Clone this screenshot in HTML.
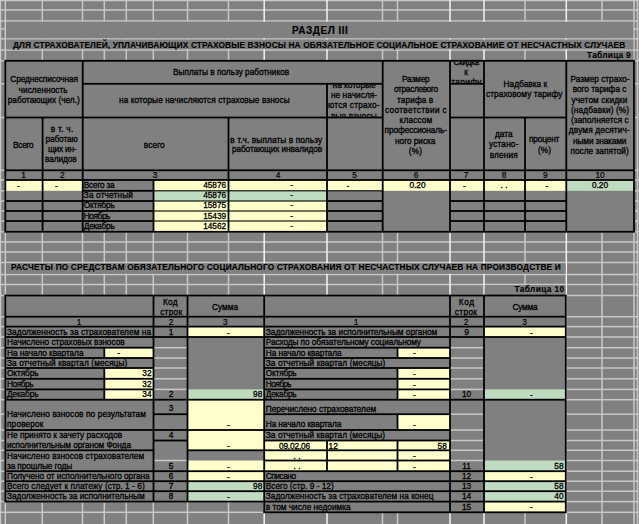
<!DOCTYPE html>
<html><head><meta charset="utf-8"><title>Раздел III</title>
<style>html,body{margin:0;padding:0;background:#808080;width:639px;height:524px;overflow:hidden}
svg{display:block;font-family:"Liberation Sans",sans-serif}text{stroke:#000;stroke-width:0.3px}text.n{stroke-width:0.2px}text[font-weight=bold]{stroke-width:0.15px}</style></head>
<body><svg width="639" height="524" viewBox="0 0 639 524" font-family="Liberation Sans, sans-serif" font-size="8.3"><defs><clipPath id="c0"><rect x="328.00" y="84.70" width="54.00" height="31.90"/></clipPath><clipPath id="c1"><rect x="451.00" y="61.70" width="32.00" height="21.80"/></clipPath></defs><rect x="0.00" y="0.00" width="639.00" height="524.00" fill="#808080"/>
<rect x="0.00" y="-0.25" width="639.00" height="1.50" fill="#c8c8c8"/>
<rect x="0.00" y="9.25" width="639.00" height="1.50" fill="#c8c8c8"/>
<rect x="0.00" y="20.25" width="639.00" height="1.50" fill="#c8c8c8"/>
<rect x="0.00" y="28.25" width="639.00" height="1.50" fill="#c8c8c8"/>
<rect x="0.00" y="38.15" width="639.00" height="1.50" fill="#c8c8c8"/>
<rect x="0.00" y="49.25" width="639.00" height="1.50" fill="#c8c8c8"/>
<rect x="0.00" y="60.05" width="639.00" height="1.50" fill="#c8c8c8"/>
<rect x="0.00" y="83.05" width="639.00" height="1.50" fill="#c8c8c8"/>
<rect x="0.00" y="116.75" width="639.00" height="1.50" fill="#c8c8c8"/>
<rect x="0.00" y="169.55" width="639.00" height="1.50" fill="#c8c8c8"/>
<rect x="0.00" y="179.25" width="639.00" height="1.50" fill="#c8c8c8"/>
<rect x="0.00" y="190.05" width="639.00" height="1.50" fill="#c8c8c8"/>
<rect x="0.00" y="200.25" width="639.00" height="1.50" fill="#c8c8c8"/>
<rect x="0.00" y="210.25" width="639.00" height="1.50" fill="#c8c8c8"/>
<rect x="0.00" y="220.25" width="639.00" height="1.50" fill="#c8c8c8"/>
<rect x="0.00" y="231.05" width="639.00" height="1.50" fill="#c8c8c8"/>
<rect x="0.00" y="241.25" width="639.00" height="1.50" fill="#c8c8c8"/>
<rect x="0.00" y="251.25" width="639.00" height="1.50" fill="#c8c8c8"/>
<rect x="0.00" y="261.75" width="639.00" height="1.50" fill="#c8c8c8"/>
<rect x="0.00" y="273.75" width="639.00" height="1.50" fill="#c8c8c8"/>
<rect x="0.00" y="283.75" width="639.00" height="1.50" fill="#c8c8c8"/>
<rect x="0.00" y="294.75" width="639.00" height="1.50" fill="#c8c8c8"/>
<rect x="0.00" y="315.95" width="639.00" height="1.50" fill="#c8c8c8"/>
<rect x="0.00" y="325.85" width="639.00" height="1.50" fill="#c8c8c8"/>
<rect x="0.00" y="336.25" width="639.00" height="1.50" fill="#c8c8c8"/>
<rect x="0.00" y="346.95" width="639.00" height="1.50" fill="#c8c8c8"/>
<rect x="0.00" y="357.25" width="639.00" height="1.50" fill="#c8c8c8"/>
<rect x="0.00" y="367.25" width="639.00" height="1.50" fill="#c8c8c8"/>
<rect x="0.00" y="378.05" width="639.00" height="1.50" fill="#c8c8c8"/>
<rect x="0.00" y="388.65" width="639.00" height="1.50" fill="#c8c8c8"/>
<rect x="0.00" y="398.95" width="639.00" height="1.50" fill="#c8c8c8"/>
<rect x="0.00" y="413.45" width="639.00" height="1.50" fill="#c8c8c8"/>
<rect x="0.00" y="429.25" width="639.00" height="1.50" fill="#c8c8c8"/>
<rect x="0.00" y="439.75" width="639.00" height="1.50" fill="#c8c8c8"/>
<rect x="0.00" y="449.55" width="639.00" height="1.50" fill="#c8c8c8"/>
<rect x="0.00" y="459.75" width="639.00" height="1.50" fill="#c8c8c8"/>
<rect x="0.00" y="470.45" width="639.00" height="1.50" fill="#c8c8c8"/>
<rect x="0.00" y="480.45" width="639.00" height="1.50" fill="#c8c8c8"/>
<rect x="0.00" y="490.45" width="639.00" height="1.50" fill="#c8c8c8"/>
<rect x="0.00" y="500.85" width="639.00" height="1.50" fill="#c8c8c8"/>
<rect x="0.00" y="511.55" width="639.00" height="1.50" fill="#c8c8c8"/>
<rect x="-0.25" y="0.00" width="1.50" height="524.00" fill="#c8c8c8"/>
<rect x="4.55" y="0.00" width="1.50" height="524.00" fill="#c8c8c8"/>
<rect x="41.55" y="0.00" width="1.50" height="524.00" fill="#c8c8c8"/>
<rect x="81.75" y="0.00" width="1.50" height="524.00" fill="#c8c8c8"/>
<rect x="103.55" y="0.00" width="1.50" height="524.00" fill="#c8c8c8"/>
<rect x="125.55" y="0.00" width="1.50" height="524.00" fill="#c8c8c8"/>
<rect x="152.55" y="0.00" width="1.50" height="524.00" fill="#c8c8c8"/>
<rect x="186.75" y="0.00" width="1.50" height="524.00" fill="#c8c8c8"/>
<rect x="227.75" y="0.00" width="1.50" height="524.00" fill="#c8c8c8"/>
<rect x="263.45" y="0.00" width="1.50" height="524.00" fill="#f4f4f4"/>
<rect x="326.25" y="0.00" width="1.50" height="524.00" fill="#f4f4f4"/>
<rect x="381.75" y="0.00" width="1.50" height="524.00" fill="#c8c8c8"/>
<rect x="396.75" y="0.00" width="1.50" height="524.00" fill="#c8c8c8"/>
<rect x="449.25" y="0.00" width="1.50" height="524.00" fill="#f4f4f4"/>
<rect x="483.25" y="0.00" width="1.50" height="524.00" fill="#f4f4f4"/>
<rect x="524.25" y="0.00" width="1.50" height="524.00" fill="#c8c8c8"/>
<rect x="565.55" y="0.00" width="1.50" height="524.00" fill="#f4f4f4"/>
<rect x="601.25" y="0.00" width="1.50" height="524.00" fill="#c8c8c8"/>
<rect x="633.25" y="0.00" width="1.50" height="524.00" fill="#c8c8c8"/>
<rect x="636.75" y="0.00" width="1.50" height="524.00" fill="#c8c8c8"/>
<rect x="6.05" y="21.75" width="627.20" height="16.40" fill="#808080"/>
<rect x="6.05" y="39.65" width="627.20" height="9.60" fill="#808080"/>
<rect x="6.05" y="263.25" width="559.50" height="10.50" fill="#808080"/>
<rect x="567.05" y="50.75" width="66.20" height="9.30" fill="#808080"/>
<rect x="484.75" y="285.25" width="80.80" height="9.50" fill="#808080"/>
<rect x="5.30" y="60.80" width="628.70" height="171.00" fill="#808080"/>
<rect x="5.30" y="180.00" width="37.30" height="10.80" fill="#ffffcc"/>
<rect x="42.60" y="180.00" width="40.10" height="10.80" fill="#ffffcc"/>
<rect x="153.50" y="180.00" width="75.00" height="10.80" fill="#ffffcc"/>
<rect x="228.50" y="180.00" width="98.50" height="10.80" fill="#ffffcc"/>
<rect x="327.00" y="180.00" width="55.70" height="10.80" fill="#ffffcc"/>
<rect x="382.70" y="180.00" width="67.30" height="10.80" fill="#ffffcc"/>
<rect x="450.00" y="180.00" width="34.00" height="10.80" fill="#ffffcc"/>
<rect x="484.00" y="180.00" width="41.00" height="10.80" fill="#ffffcc"/>
<rect x="525.00" y="180.00" width="41.30" height="10.80" fill="#ffffcc"/>
<rect x="566.30" y="180.00" width="67.70" height="10.80" fill="#c0dcc0"/>
<rect x="153.50" y="190.80" width="75.00" height="10.20" fill="#c0dcc0"/>
<rect x="228.50" y="190.80" width="98.50" height="10.20" fill="#c0dcc0"/>
<rect x="153.50" y="201.00" width="75.00" height="10.00" fill="#ffffcc"/>
<rect x="228.50" y="201.00" width="98.50" height="10.00" fill="#ffffcc"/>
<rect x="153.50" y="211.00" width="75.00" height="10.00" fill="#ffffcc"/>
<rect x="228.50" y="211.00" width="98.50" height="10.00" fill="#ffffcc"/>
<rect x="153.50" y="221.00" width="75.00" height="10.80" fill="#ffffcc"/>
<rect x="228.50" y="221.00" width="98.50" height="10.80" fill="#ffffcc"/>
<rect x="4.40" y="59.90" width="630.50" height="1.80" fill="#000"/>
<rect x="4.40" y="230.90" width="630.50" height="1.80" fill="#000"/>
<rect x="4.40" y="60.80" width="1.80" height="171.00" fill="#000"/>
<rect x="633.10" y="60.80" width="1.80" height="171.00" fill="#000"/>
<rect x="81.80" y="60.80" width="1.80" height="171.00" fill="#000"/>
<rect x="381.80" y="60.80" width="1.80" height="171.00" fill="#000"/>
<rect x="449.10" y="60.80" width="1.80" height="171.00" fill="#000"/>
<rect x="483.10" y="60.80" width="1.80" height="171.00" fill="#000"/>
<rect x="565.40" y="60.80" width="1.80" height="171.00" fill="#000"/>
<rect x="41.70" y="117.50" width="1.80" height="114.30" fill="#000"/>
<rect x="227.60" y="117.50" width="1.80" height="114.30" fill="#000"/>
<rect x="326.10" y="83.80" width="1.80" height="148.00" fill="#000"/>
<rect x="524.10" y="117.50" width="1.80" height="114.30" fill="#000"/>
<rect x="152.60" y="180.00" width="1.80" height="51.80" fill="#000"/>
<rect x="82.70" y="82.90" width="300.00" height="1.80" fill="#000"/>
<rect x="450.00" y="82.90" width="34.00" height="1.80" fill="#000"/>
<rect x="5.30" y="116.60" width="377.40" height="1.80" fill="#000"/>
<rect x="450.00" y="116.60" width="116.30" height="1.80" fill="#000"/>
<rect x="5.30" y="169.40" width="628.70" height="1.80" fill="#000"/>
<rect x="5.30" y="179.10" width="628.70" height="1.80" fill="#000"/>
<rect x="5.30" y="200.10" width="77.40" height="1.80" fill="#000"/>
<rect x="5.30" y="210.10" width="77.40" height="1.80" fill="#000"/>
<rect x="5.30" y="220.10" width="77.40" height="1.80" fill="#000"/>
<rect x="82.70" y="189.90" width="70.80" height="1.80" fill="#000"/>
<rect x="153.50" y="190.25" width="173.50" height="1.10" fill="#000"/>
<rect x="327.00" y="190.25" width="55.70" height="1.10" fill="#000"/>
<rect x="82.70" y="200.10" width="70.80" height="1.80" fill="#000"/>
<rect x="153.50" y="200.45" width="173.50" height="1.10" fill="#000"/>
<rect x="327.00" y="200.10" width="55.70" height="1.80" fill="#000"/>
<rect x="450.00" y="200.10" width="116.30" height="1.80" fill="#000"/>
<rect x="82.70" y="210.10" width="70.80" height="1.80" fill="#000"/>
<rect x="153.50" y="210.45" width="173.50" height="1.10" fill="#000"/>
<rect x="327.00" y="210.10" width="55.70" height="1.80" fill="#000"/>
<rect x="450.00" y="210.10" width="116.30" height="1.80" fill="#000"/>
<rect x="82.70" y="220.10" width="70.80" height="1.80" fill="#000"/>
<rect x="153.50" y="220.45" width="173.50" height="1.10" fill="#000"/>
<rect x="327.00" y="220.10" width="55.70" height="1.80" fill="#000"/>
<rect x="450.00" y="220.10" width="116.30" height="1.80" fill="#000"/>
<rect x="5.30" y="295.50" width="258.90" height="206.10" fill="#808080"/>
<rect x="264.20" y="295.50" width="301.60" height="216.80" fill="#808080"/>
<rect x="153.50" y="346.95" width="34.00" height="1.50" fill="#c8c8c8"/>
<rect x="153.50" y="357.25" width="34.00" height="1.50" fill="#c8c8c8"/>
<rect x="153.50" y="367.25" width="34.00" height="1.50" fill="#c8c8c8"/>
<rect x="153.50" y="378.05" width="34.00" height="1.50" fill="#c8c8c8"/>
<rect x="153.50" y="388.65" width="34.00" height="1.50" fill="#c8c8c8"/>
<rect x="153.50" y="459.75" width="34.00" height="1.50" fill="#c8c8c8"/>
<rect x="450.00" y="346.95" width="34.00" height="1.50" fill="#c8c8c8"/>
<rect x="450.00" y="357.25" width="34.00" height="1.50" fill="#c8c8c8"/>
<rect x="450.00" y="367.25" width="34.00" height="1.50" fill="#c8c8c8"/>
<rect x="450.00" y="378.05" width="34.00" height="1.50" fill="#c8c8c8"/>
<rect x="450.00" y="388.65" width="34.00" height="1.50" fill="#c8c8c8"/>
<rect x="450.00" y="413.45" width="34.00" height="1.50" fill="#c8c8c8"/>
<rect x="450.00" y="429.25" width="34.00" height="1.50" fill="#c8c8c8"/>
<rect x="450.00" y="439.75" width="34.00" height="1.50" fill="#c8c8c8"/>
<rect x="450.00" y="449.55" width="34.00" height="1.50" fill="#c8c8c8"/>
<rect x="450.00" y="459.75" width="34.00" height="1.50" fill="#c8c8c8"/>
<rect x="187.50" y="326.60" width="76.70" height="10.40" fill="#ffffcc"/>
<rect x="104.30" y="347.70" width="49.20" height="10.30" fill="#ffffcc"/>
<rect x="104.30" y="368.00" width="49.20" height="10.80" fill="#ffffcc"/>
<rect x="104.30" y="378.80" width="49.20" height="10.60" fill="#ffffcc"/>
<rect x="104.30" y="389.40" width="49.20" height="10.30" fill="#ffffcc"/>
<rect x="187.50" y="389.40" width="76.70" height="10.30" fill="#c0dcc0"/>
<rect x="187.50" y="399.70" width="76.70" height="30.30" fill="#ffffcc"/>
<rect x="187.50" y="430.00" width="76.70" height="20.30" fill="#ffffcc"/>
<rect x="187.50" y="460.50" width="76.70" height="10.70" fill="#ffffcc"/>
<rect x="187.50" y="471.20" width="76.70" height="10.00" fill="#ffffcc"/>
<rect x="187.50" y="481.20" width="76.70" height="10.00" fill="#c0dcc0"/>
<rect x="187.50" y="491.20" width="76.70" height="10.40" fill="#c0dcc0"/>
<rect x="484.00" y="326.60" width="81.80" height="10.40" fill="#ffffcc"/>
<rect x="397.50" y="347.70" width="52.50" height="10.30" fill="#ffffcc"/>
<rect x="397.50" y="368.00" width="52.50" height="10.80" fill="#ffffcc"/>
<rect x="397.50" y="378.80" width="52.50" height="10.60" fill="#ffffcc"/>
<rect x="397.50" y="389.40" width="52.50" height="10.30" fill="#ffffcc"/>
<rect x="484.00" y="389.40" width="81.80" height="10.30" fill="#c0dcc0"/>
<rect x="397.50" y="414.20" width="52.50" height="15.80" fill="#ffffcc"/>
<rect x="264.20" y="440.50" width="185.80" height="9.80" fill="#ffffcc"/>
<rect x="264.20" y="450.30" width="185.80" height="10.20" fill="#ffffcc"/>
<rect x="264.20" y="460.50" width="185.80" height="10.70" fill="#ffffcc"/>
<rect x="484.00" y="460.50" width="81.80" height="10.70" fill="#c0dcc0"/>
<rect x="484.00" y="471.20" width="81.80" height="10.00" fill="#ffffcc"/>
<rect x="484.00" y="481.20" width="81.80" height="10.00" fill="#c0dcc0"/>
<rect x="484.00" y="491.20" width="81.80" height="10.40" fill="#c0dcc0"/>
<rect x="484.00" y="501.60" width="81.80" height="10.70" fill="#ffffcc"/>
<rect x="4.40" y="294.60" width="562.30" height="1.80" fill="#000"/>
<rect x="4.40" y="295.50" width="1.80" height="206.10" fill="#000"/>
<rect x="4.40" y="500.70" width="259.80" height="1.80" fill="#000"/>
<rect x="263.30" y="295.50" width="1.80" height="216.80" fill="#000"/>
<rect x="564.90" y="295.50" width="1.80" height="216.80" fill="#000"/>
<rect x="263.30" y="511.40" width="303.40" height="1.80" fill="#000"/>
<rect x="5.30" y="315.80" width="560.50" height="1.80" fill="#000"/>
<rect x="5.30" y="325.70" width="560.50" height="1.80" fill="#000"/>
<rect x="152.60" y="295.50" width="1.80" height="206.10" fill="#000"/>
<rect x="186.60" y="295.50" width="1.80" height="206.10" fill="#000"/>
<rect x="449.10" y="295.50" width="1.80" height="216.80" fill="#000"/>
<rect x="483.10" y="295.50" width="1.80" height="216.80" fill="#000"/>
<rect x="5.30" y="336.10" width="148.20" height="1.80" fill="#000"/>
<rect x="5.30" y="346.80" width="148.20" height="1.80" fill="#000"/>
<rect x="5.30" y="357.10" width="148.20" height="1.80" fill="#000"/>
<rect x="5.30" y="367.10" width="148.20" height="1.80" fill="#000"/>
<rect x="5.30" y="377.90" width="148.20" height="1.80" fill="#000"/>
<rect x="5.30" y="388.50" width="148.20" height="1.80" fill="#000"/>
<rect x="5.30" y="398.80" width="148.20" height="1.80" fill="#000"/>
<rect x="5.30" y="429.10" width="148.20" height="1.80" fill="#000"/>
<rect x="5.30" y="449.40" width="148.20" height="1.80" fill="#000"/>
<rect x="5.30" y="470.30" width="148.20" height="1.80" fill="#000"/>
<rect x="5.30" y="480.30" width="148.20" height="1.80" fill="#000"/>
<rect x="5.30" y="490.30" width="148.20" height="1.80" fill="#000"/>
<rect x="153.50" y="336.10" width="34.00" height="1.80" fill="#000"/>
<rect x="153.50" y="398.80" width="34.00" height="1.80" fill="#000"/>
<rect x="153.50" y="413.30" width="34.00" height="1.80" fill="#000"/>
<rect x="153.50" y="429.10" width="34.00" height="1.80" fill="#000"/>
<rect x="153.50" y="439.60" width="34.00" height="1.80" fill="#000"/>
<rect x="153.50" y="470.30" width="34.00" height="1.80" fill="#000"/>
<rect x="153.50" y="480.30" width="34.00" height="1.80" fill="#000"/>
<rect x="153.50" y="490.30" width="34.00" height="1.80" fill="#000"/>
<rect x="187.50" y="336.10" width="76.70" height="1.80" fill="#000"/>
<rect x="187.50" y="398.80" width="76.70" height="1.80" fill="#000"/>
<rect x="187.50" y="429.10" width="76.70" height="1.80" fill="#000"/>
<rect x="187.50" y="449.40" width="76.70" height="1.80" fill="#000"/>
<rect x="187.50" y="470.30" width="76.70" height="1.80" fill="#000"/>
<rect x="187.50" y="480.30" width="76.70" height="1.80" fill="#000"/>
<rect x="187.50" y="490.30" width="76.70" height="1.80" fill="#000"/>
<rect x="103.40" y="347.70" width="1.80" height="10.30" fill="#000"/>
<rect x="103.40" y="368.00" width="1.80" height="31.70" fill="#000"/>
<rect x="264.20" y="336.10" width="185.80" height="1.80" fill="#000"/>
<rect x="264.20" y="346.80" width="185.80" height="1.80" fill="#000"/>
<rect x="264.20" y="357.10" width="185.80" height="1.80" fill="#000"/>
<rect x="264.20" y="367.10" width="185.80" height="1.80" fill="#000"/>
<rect x="264.20" y="377.90" width="185.80" height="1.80" fill="#000"/>
<rect x="264.20" y="388.50" width="185.80" height="1.80" fill="#000"/>
<rect x="264.20" y="398.80" width="185.80" height="1.80" fill="#000"/>
<rect x="264.20" y="413.30" width="185.80" height="1.80" fill="#000"/>
<rect x="264.20" y="429.10" width="185.80" height="1.80" fill="#000"/>
<rect x="264.20" y="439.60" width="185.80" height="1.80" fill="#000"/>
<rect x="264.20" y="449.40" width="185.80" height="1.80" fill="#000"/>
<rect x="264.20" y="459.60" width="185.80" height="1.80" fill="#000"/>
<rect x="264.20" y="470.30" width="185.80" height="1.80" fill="#000"/>
<rect x="264.20" y="480.30" width="185.80" height="1.80" fill="#000"/>
<rect x="264.20" y="490.30" width="185.80" height="1.80" fill="#000"/>
<rect x="264.20" y="500.70" width="185.80" height="1.80" fill="#000"/>
<rect x="450.00" y="336.10" width="34.00" height="1.80" fill="#000"/>
<rect x="450.00" y="398.80" width="34.00" height="1.80" fill="#000"/>
<rect x="450.00" y="470.30" width="34.00" height="1.80" fill="#000"/>
<rect x="450.00" y="480.30" width="34.00" height="1.80" fill="#000"/>
<rect x="450.00" y="490.30" width="34.00" height="1.80" fill="#000"/>
<rect x="450.00" y="500.70" width="34.00" height="1.80" fill="#000"/>
<rect x="484.00" y="336.10" width="81.80" height="1.80" fill="#000"/>
<rect x="484.00" y="398.80" width="81.80" height="1.80" fill="#000"/>
<rect x="484.00" y="470.30" width="81.80" height="1.80" fill="#000"/>
<rect x="484.00" y="480.30" width="81.80" height="1.80" fill="#000"/>
<rect x="484.00" y="490.30" width="81.80" height="1.80" fill="#000"/>
<rect x="484.00" y="500.70" width="81.80" height="1.80" fill="#000"/>
<rect x="396.60" y="347.70" width="1.80" height="10.30" fill="#000"/>
<rect x="396.60" y="368.00" width="1.80" height="31.70" fill="#000"/>
<rect x="396.60" y="414.20" width="1.80" height="15.80" fill="#000"/>
<rect x="396.60" y="440.50" width="1.80" height="30.70" fill="#000"/>
<rect x="326.10" y="440.50" width="1.80" height="30.70" fill="#000"/>
<text x="292.00" y="33.50" font-weight="bold" textLength="55.9" lengthAdjust="spacing" font-size="10">РАЗДЕЛ III</text>
<text x="13.00" y="47.60" font-weight="bold" textLength="612.2" lengthAdjust="spacing" font-size="8.3">ДЛЯ СТРАХОВАТЕЛЕЙ, УПЛАЧИВАЮЩИХ СТРАХОВЫЕ ВЗНОСЫ НА ОБЯЗАТЕЛЬНОЕ СОЦИАЛЬНОЕ СТРАХОВАНИЕ ОТ НЕСЧАСТНЫХ СЛУЧАЕВ</text>
<text x="587.00" y="58.30" font-weight="bold" textLength="43.7" lengthAdjust="spacing" font-size="8.3">Таблица 9</text>
<text x="11.00" y="270.00" font-weight="bold" textLength="549.7" lengthAdjust="spacing" font-size="8.3">РАСЧЕТЫ ПО СРЕДСТВАМ ОБЯЗАТЕЛЬНОГО СОЦИАЛЬНОГО СТРАХОВАНИЯ ОТ НЕСЧАСТНЫХ СЛУЧАЕВ НА ПРОИЗВОДСТВЕ И</text>
<text x="514.50" y="292.30" font-weight="bold" textLength="49.7" lengthAdjust="spacing" font-size="8.3">Таблица 10</text>
<text x="10.30" y="81.80" textLength="67.7" lengthAdjust="spacing" font-size="8.3" transform="matrix(1 0 0 1.080 0 -6.544)">Среднесписочная</text>
<text x="18.60" y="92.60" textLength="49.1" lengthAdjust="spacing" font-size="8.3" transform="matrix(1 0 0 1.080 0 -7.408)">численность</text>
<text x="7.70" y="102.60" textLength="72.0" lengthAdjust="spacing" font-size="8.3" transform="matrix(1 0 0 1.080 0 -8.208)">работающих  (чел.)</text>
<text x="173.00" y="74.60" textLength="116.2" lengthAdjust="spacing" font-size="8.3" transform="matrix(1 0 0 1.080 0 -5.968)">Выплаты в пользу работников</text>
<text x="119.00" y="102.60" textLength="170.7" lengthAdjust="spacing" font-size="8.3" transform="matrix(1 0 0 1.080 0 -8.208)">на которые начисляются страховые взносы</text>
<g clip-path="url(#c0)"><text x="332.60" y="87.60" textLength="43.0" lengthAdjust="spacing" font-size="8.3" transform="matrix(1 0 0 1.080 0 -7.008)">на которые</text></g>
<g clip-path="url(#c0)"><text x="331.00" y="98.00" textLength="46.1" lengthAdjust="spacing" font-size="8.3" transform="matrix(1 0 0 1.080 0 -7.840)">не начисля-</text></g>
<g clip-path="url(#c0)"><text x="328.00" y="108.50" textLength="51.7" lengthAdjust="spacing" font-size="8.3" transform="matrix(1 0 0 1.080 0 -8.680)">ются страхо-</text></g>
<g clip-path="url(#c0)"><text x="331.00" y="119.00" textLength="45.7" lengthAdjust="spacing" font-size="8.3" transform="matrix(1 0 0 1.080 0 -9.520)">вые взносы</text></g>
<text x="402.00" y="82.00" textLength="27.7" lengthAdjust="spacing" font-size="8.3" transform="matrix(1 0 0 1.080 0 -6.560)">Размер</text>
<text x="394.00" y="92.30" textLength="44.2" lengthAdjust="spacing" font-size="8.3" transform="matrix(1 0 0 1.080 0 -7.384)">отраслевого</text>
<text x="397.00" y="102.60" textLength="36.3" lengthAdjust="spacing" font-size="8.3" transform="matrix(1 0 0 1.080 0 -8.208)">тарифа в</text>
<text x="385.00" y="112.90" textLength="61.7" lengthAdjust="spacing" font-size="8.3" transform="matrix(1 0 0 1.080 0 -9.032)">соответствии с</text>
<text x="399.60" y="123.20" textLength="32.6" lengthAdjust="spacing" font-size="8.3" transform="matrix(1 0 0 1.080 0 -9.856)">классом</text>
<text x="384.50" y="133.50" textLength="62.6" lengthAdjust="spacing" font-size="8.3" transform="matrix(1 0 0 1.080 0 -10.680)">профессиональ-</text>
<text x="395.10" y="143.80" textLength="40.3" lengthAdjust="spacing" font-size="8.3" transform="matrix(1 0 0 1.080 0 -11.504)">ного риска</text>
<text x="408.80" y="154.10" textLength="13.2" lengthAdjust="spacing" font-size="8.3" transform="matrix(1 0 0 1.080 0 -12.328)">(%)</text>
<g clip-path="url(#c1)"><text x="453.60" y="65.30" textLength="25.5" lengthAdjust="spacing" font-size="8.3" transform="matrix(1 0 0 1.080 0 -5.224)">Скидка</text></g>
<g clip-path="url(#c1)"><text x="466.00" y="75.30" text-anchor="middle" font-size="8.3" transform="matrix(1 0 0 1.080 0 -6.024)">к</text></g>
<g clip-path="url(#c1)"><text x="451.30" y="85.30" textLength="30.2" lengthAdjust="spacing" font-size="8.3" transform="matrix(1 0 0 1.080 0 -6.824)">тарифу</text></g>
<text x="503.60" y="87.20" textLength="43.6" lengthAdjust="spacing" font-size="8.3" transform="matrix(1 0 0 1.080 0 -6.976)">Надбавка к</text>
<text x="486.00" y="97.40" textLength="76.5" lengthAdjust="spacing" font-size="8.3" transform="matrix(1 0 0 1.080 0 -7.792)">страховому  тарифу</text>
<text x="570.50" y="82.00" textLength="59.2" lengthAdjust="spacing" font-size="8.3" transform="matrix(1 0 0 1.080 0 -6.560)">Размер страхо-</text>
<text x="572.70" y="92.30" textLength="53.7" lengthAdjust="spacing" font-size="8.3" transform="matrix(1 0 0 1.080 0 -7.384)">вого тарифа с</text>
<text x="571.40" y="102.60" textLength="56.1" lengthAdjust="spacing" font-size="8.3" transform="matrix(1 0 0 1.080 0 -8.208)">учетом скидки</text>
<text x="571.00" y="112.90" textLength="58.1" lengthAdjust="spacing" font-size="8.3" transform="matrix(1 0 0 1.080 0 -9.032)">(надбавки) (%)</text>
<text x="571.00" y="123.20" textLength="57.7" lengthAdjust="spacing" font-size="8.3" transform="matrix(1 0 0 1.080 0 -9.856)">(заполняется с</text>
<text x="568.80" y="133.50" textLength="60.9" lengthAdjust="spacing" font-size="8.3" transform="matrix(1 0 0 1.080 0 -10.680)">двумя десятич-</text>
<text x="573.10" y="143.80" textLength="53.3" lengthAdjust="spacing" font-size="8.3" transform="matrix(1 0 0 1.080 0 -11.504)">ными знаками</text>
<text x="570.50" y="154.10" textLength="58.2" lengthAdjust="spacing" font-size="8.3" transform="matrix(1 0 0 1.080 0 -12.328)">после запятой)</text>
<text x="13.00" y="147.60" textLength="20.7" lengthAdjust="spacing" font-size="8.3" transform="matrix(1 0 0 1.080 0 -11.808)">Всего</text>
<text x="50.80" y="131.80" textLength="22.4" lengthAdjust="spacing" font-size="8.3" transform="matrix(1 0 0 1.080 0 -10.544)">в т. ч.</text>
<text x="45.40" y="142.10" textLength="32.4" lengthAdjust="spacing" font-size="8.3" transform="matrix(1 0 0 1.080 0 -11.368)">работаю</text>
<text x="47.90" y="152.20" textLength="28.7" lengthAdjust="spacing" font-size="8.3" transform="matrix(1 0 0 1.080 0 -12.176)">щих  ин-</text>
<text x="45.00" y="162.30" textLength="31.6" lengthAdjust="spacing" font-size="8.3" transform="matrix(1 0 0 1.080 0 -12.984)">валидов</text>
<text x="143.80" y="147.60" textLength="20.9" lengthAdjust="spacing" font-size="8.3" transform="matrix(1 0 0 1.080 0 -11.808)">всего</text>
<text x="230.30" y="142.60" textLength="91.8" lengthAdjust="spacing" font-size="8.3" transform="matrix(1 0 0 1.080 0 -11.408)">в т.ч. выплаты в  пользу</text>
<text x="232.00" y="152.50" textLength="90.1" lengthAdjust="spacing" font-size="8.3" transform="matrix(1 0 0 1.080 0 -12.200)">работающих  инвалидов</text>
<text x="494.90" y="137.20" textLength="17.7" lengthAdjust="spacing" font-size="8.3" transform="matrix(1 0 0 1.080 0 -10.976)">дата</text>
<text x="489.00" y="147.20" textLength="29.4" lengthAdjust="spacing" font-size="8.3" transform="matrix(1 0 0 1.080 0 -11.776)">устано-</text>
<text x="489.80" y="157.90" textLength="27.9" lengthAdjust="spacing" font-size="8.3" transform="matrix(1 0 0 1.080 0 -12.632)">вления</text>
<text x="528.90" y="142.00" textLength="30.5" lengthAdjust="spacing" font-size="8.3" transform="matrix(1 0 0 1.080 0 -11.360)">процент</text>
<text x="537.90" y="152.60" textLength="13.2" lengthAdjust="spacing" font-size="8.3" transform="matrix(1 0 0 1.080 0 -12.208)">(%)</text>
<text x="23.50" y="178.20" text-anchor="middle" font-size="8.3" transform="matrix(1 0 0 1.080 0 -14.256)" class="n">1</text>
<text x="62.20" y="178.20" text-anchor="middle" font-size="8.3" transform="matrix(1 0 0 1.080 0 -14.256)" class="n">2</text>
<text x="155.00" y="178.20" text-anchor="middle" font-size="8.3" transform="matrix(1 0 0 1.080 0 -14.256)" class="n">3</text>
<text x="278.00" y="178.20" text-anchor="middle" font-size="8.3" transform="matrix(1 0 0 1.080 0 -14.256)" class="n">4</text>
<text x="354.60" y="178.20" text-anchor="middle" font-size="8.3" transform="matrix(1 0 0 1.080 0 -14.256)" class="n">5</text>
<text x="416.00" y="178.20" text-anchor="middle" font-size="8.3" transform="matrix(1 0 0 1.080 0 -14.256)" class="n">6</text>
<text x="466.00" y="178.20" text-anchor="middle" font-size="8.3" transform="matrix(1 0 0 1.080 0 -14.256)" class="n">7</text>
<text x="504.00" y="178.20" text-anchor="middle" font-size="8.3" transform="matrix(1 0 0 1.080 0 -14.256)" class="n">8</text>
<text x="545.30" y="178.20" text-anchor="middle" font-size="8.3" transform="matrix(1 0 0 1.080 0 -14.256)" class="n">9</text>
<text x="600.00" y="178.20" text-anchor="middle" font-size="8.3" transform="matrix(1 0 0 1.080 0 -14.256)" class="n">10</text>
<text x="18.50" y="189.20" text-anchor="middle" font-size="8.3" transform="matrix(1 0 0 1.080 0 -15.136)">-</text>
<text x="56.50" y="189.20" text-anchor="middle" font-size="8.3" transform="matrix(1 0 0 1.080 0 -15.136)">-</text>
<text x="83.80" y="188.30" textLength="30.9" lengthAdjust="spacing" font-size="8.3" transform="matrix(1 0 0 1.080 0 -15.064)">Всего за</text>
<text x="83.80" y="198.40" textLength="49.1" lengthAdjust="spacing" font-size="8.3" transform="matrix(1 0 0 1.080 0 -15.872)">За отчетный</text>
<text x="83.80" y="208.50" textLength="30.9" lengthAdjust="spacing" font-size="8.3" transform="matrix(1 0 0 1.080 0 -16.680)">Октябрь</text>
<text x="83.80" y="218.70" textLength="26.6" lengthAdjust="spacing" font-size="8.3" transform="matrix(1 0 0 1.080 0 -17.496)">Ноябрь</text>
<text x="83.80" y="228.90" textLength="30.9" lengthAdjust="spacing" font-size="8.3" transform="matrix(1 0 0 1.080 0 -18.312)">Декабрь</text>
<text x="226.20" y="188.30" text-anchor="end" font-size="8.3" transform="matrix(1 0 0 1.080 0 -15.064)">45876</text>
<text x="291.60" y="188.20" text-anchor="middle" font-size="8.3" transform="matrix(1 0 0 1.080 0 -15.056)">-</text>
<text x="226.20" y="198.40" text-anchor="end" font-size="8.3" transform="matrix(1 0 0 1.080 0 -15.872)">45876</text>
<text x="291.60" y="198.30" text-anchor="middle" font-size="8.3" transform="matrix(1 0 0 1.080 0 -15.864)">-</text>
<text x="226.20" y="208.50" text-anchor="end" font-size="8.3" transform="matrix(1 0 0 1.080 0 -16.680)">15875</text>
<text x="291.60" y="208.40" text-anchor="middle" font-size="8.3" transform="matrix(1 0 0 1.080 0 -16.672)">-</text>
<text x="226.20" y="218.70" text-anchor="end" font-size="8.3" transform="matrix(1 0 0 1.080 0 -17.496)">15439</text>
<text x="291.60" y="218.60" text-anchor="middle" font-size="8.3" transform="matrix(1 0 0 1.080 0 -17.488)">-</text>
<text x="226.20" y="228.90" text-anchor="end" font-size="8.3" transform="matrix(1 0 0 1.080 0 -18.312)">14562</text>
<text x="291.60" y="228.80" text-anchor="middle" font-size="8.3" transform="matrix(1 0 0 1.080 0 -18.304)">-</text>
<text x="348.00" y="189.20" text-anchor="middle" font-size="8.3" transform="matrix(1 0 0 1.080 0 -15.136)">-</text>
<text x="417.50" y="188.30" text-anchor="middle" font-size="8.3" transform="matrix(1 0 0 1.080 0 -15.064)">0.20</text>
<text x="464.50" y="189.20" text-anchor="middle" font-size="8.3" transform="matrix(1 0 0 1.080 0 -15.136)">-</text>
<text x="504.00" y="188.30" text-anchor="middle" font-size="8.3" transform="matrix(1 0 0 1.080 0 -15.064)">. .</text>
<text x="547.00" y="189.20" text-anchor="middle" font-size="8.3" transform="matrix(1 0 0 1.080 0 -15.136)">-</text>
<text x="600.00" y="188.30" text-anchor="middle" font-size="8.3" transform="matrix(1 0 0 1.080 0 -15.064)">0.20</text>
<text x="163.00" y="305.00" textLength="14.7" lengthAdjust="spacing" font-size="8.3" transform="matrix(1 0 0 1.080 0 -24.400)">Код</text>
<text x="160.20" y="314.60" textLength="21.9" lengthAdjust="spacing" font-size="8.3" transform="matrix(1 0 0 1.080 0 -25.168)">строк</text>
<text x="212.00" y="310.50" textLength="26.0" lengthAdjust="spacing" font-size="8.3" transform="matrix(1 0 0 1.080 0 -24.840)">Сумма</text>
<text x="458.70" y="305.00" textLength="15.4" lengthAdjust="spacing" font-size="8.3" transform="matrix(1 0 0 1.080 0 -24.400)">Код</text>
<text x="454.80" y="314.60" textLength="22.2" lengthAdjust="spacing" font-size="8.3" transform="matrix(1 0 0 1.080 0 -25.168)">строк</text>
<text x="512.50" y="310.50" textLength="25.2" lengthAdjust="spacing" font-size="8.3" transform="matrix(1 0 0 1.080 0 -24.840)">Сумма</text>
<text x="79.00" y="325.00" text-anchor="middle" font-size="8.3" transform="matrix(1 0 0 1.080 0 -26.000)" class="n">1</text>
<text x="171.00" y="325.00" text-anchor="middle" font-size="8.3" transform="matrix(1 0 0 1.080 0 -26.000)" class="n">2</text>
<text x="225.40" y="325.00" text-anchor="middle" font-size="8.3" transform="matrix(1 0 0 1.080 0 -26.000)" class="n">3</text>
<text x="356.00" y="325.00" text-anchor="middle" font-size="8.3" transform="matrix(1 0 0 1.080 0 -26.000)" class="n">1</text>
<text x="466.00" y="325.00" text-anchor="middle" font-size="8.3" transform="matrix(1 0 0 1.080 0 -26.000)" class="n">2</text>
<text x="524.50" y="325.00" text-anchor="middle" font-size="8.3" transform="matrix(1 0 0 1.080 0 -26.000)" class="n">3</text>
<text x="7.00" y="335.20" textLength="144.0" lengthAdjust="spacing" font-size="8.3" transform="matrix(1 0 0 1.080 0 -26.816)">Задолженность за страхователем на</text>
<text x="7.00" y="345.40" textLength="117.7" lengthAdjust="spacing" font-size="8.3" transform="matrix(1 0 0 1.080 0 -27.632)">Начислено страховых взносов</text>
<text x="7.00" y="355.60" textLength="76.5" lengthAdjust="spacing" font-size="8.3" transform="matrix(1 0 0 1.080 0 -28.448)">На начало квартала</text>
<text x="7.00" y="366.00" textLength="120.2" lengthAdjust="spacing" font-size="8.3" transform="matrix(1 0 0 1.080 0 -29.280)">За отчетный квартал (месяцы)</text>
<text x="7.00" y="376.50" textLength="31.5" lengthAdjust="spacing" font-size="8.3" transform="matrix(1 0 0 1.080 0 -30.120)">Октябрь</text>
<text x="7.00" y="386.90" textLength="26.5" lengthAdjust="spacing" font-size="8.3" transform="matrix(1 0 0 1.080 0 -30.952)">Ноябрь</text>
<text x="7.00" y="397.20" textLength="31.5" lengthAdjust="spacing" font-size="8.3" transform="matrix(1 0 0 1.080 0 -31.776)">Декабрь</text>
<text x="7.00" y="417.40" textLength="139.0" lengthAdjust="spacing" font-size="8.3" transform="matrix(1 0 0 1.080 0 -33.392)">Начислено взносов  по результатам</text>
<text x="7.00" y="427.40" textLength="36.5" lengthAdjust="spacing" font-size="8.3" transform="matrix(1 0 0 1.080 0 -34.192)">проверок</text>
<text x="7.00" y="437.90" textLength="115.2" lengthAdjust="spacing" font-size="8.3" transform="matrix(1 0 0 1.080 0 -35.032)">Не принято к зачету  расходов</text>
<text x="7.00" y="447.90" textLength="124.0" lengthAdjust="spacing" font-size="8.3" transform="matrix(1 0 0 1.080 0 -35.832)">исполнительным органом Фонда</text>
<text x="7.00" y="458.80" textLength="137.2" lengthAdjust="spacing" font-size="8.3" transform="matrix(1 0 0 1.080 0 -36.704)">Начислено взносов  страхователем</text>
<text x="7.00" y="468.70" textLength="65.2" lengthAdjust="spacing" font-size="8.3" transform="matrix(1 0 0 1.080 0 -37.496)">за прошлые годы</text>
<text x="7.00" y="478.90" textLength="142.7" lengthAdjust="spacing" font-size="8.3" transform="matrix(1 0 0 1.080 0 -38.312)">Получено от исполнительного органа</text>
<text x="7.00" y="489.10" textLength="137.7" lengthAdjust="spacing" font-size="8.3" transform="matrix(1 0 0 1.080 0 -39.128)">Всего следует к платежу  (стр. 1 - 6)</text>
<text x="7.00" y="499.20" textLength="137.7" lengthAdjust="spacing" font-size="8.3" transform="matrix(1 0 0 1.080 0 -39.936)">Задолженность за исполнительным</text>
<text x="228.50" y="336.10" text-anchor="middle" font-size="8.3" transform="matrix(1 0 0 1.080 0 -26.888)">-</text>
<text x="118.70" y="356.50" text-anchor="middle" font-size="8.3" transform="matrix(1 0 0 1.080 0 -28.520)">-</text>
<text x="151.60" y="376.50" text-anchor="end" font-size="8.3" transform="matrix(1 0 0 1.080 0 -30.120)">32</text>
<text x="151.60" y="386.90" text-anchor="end" font-size="8.3" transform="matrix(1 0 0 1.080 0 -30.952)">32</text>
<text x="151.60" y="397.20" text-anchor="end" font-size="8.3" transform="matrix(1 0 0 1.080 0 -31.776)">34</text>
<text x="262.30" y="397.20" text-anchor="end" font-size="8.3" transform="matrix(1 0 0 1.080 0 -31.776)">98</text>
<text x="262.30" y="489.10" text-anchor="end" font-size="8.3" transform="matrix(1 0 0 1.080 0 -39.128)">98</text>
<text x="228.50" y="428.50" text-anchor="middle" font-size="8.3" transform="matrix(1 0 0 1.080 0 -34.280)">-</text>
<text x="228.50" y="448.90" text-anchor="middle" font-size="8.3" transform="matrix(1 0 0 1.080 0 -35.912)">-</text>
<text x="228.50" y="469.90" text-anchor="middle" font-size="8.3" transform="matrix(1 0 0 1.080 0 -37.592)">-</text>
<text x="228.50" y="479.90" text-anchor="middle" font-size="8.3" transform="matrix(1 0 0 1.080 0 -38.392)">-</text>
<text x="228.50" y="500.10" text-anchor="middle" font-size="8.3" transform="matrix(1 0 0 1.080 0 -40.008)">-</text>
<text x="171.00" y="335.20" text-anchor="middle" font-size="8.3" transform="matrix(1 0 0 1.080 0 -26.816)">1</text>
<text x="171.00" y="397.20" text-anchor="middle" font-size="8.3" transform="matrix(1 0 0 1.080 0 -31.776)">2</text>
<text x="171.00" y="411.50" text-anchor="middle" font-size="8.3" transform="matrix(1 0 0 1.080 0 -32.920)">3</text>
<text x="171.00" y="438.00" text-anchor="middle" font-size="8.3" transform="matrix(1 0 0 1.080 0 -35.040)">4</text>
<text x="171.00" y="469.00" text-anchor="middle" font-size="8.3" transform="matrix(1 0 0 1.080 0 -37.520)">5</text>
<text x="171.00" y="479.00" text-anchor="middle" font-size="8.3" transform="matrix(1 0 0 1.080 0 -38.320)">6</text>
<text x="171.00" y="489.10" text-anchor="middle" font-size="8.3" transform="matrix(1 0 0 1.080 0 -39.128)">7</text>
<text x="171.00" y="499.20" text-anchor="middle" font-size="8.3" transform="matrix(1 0 0 1.080 0 -39.936)">8</text>
<text x="265.80" y="335.20" textLength="171.5" lengthAdjust="spacing" font-size="8.3" transform="matrix(1 0 0 1.080 0 -26.816)">Задолженность за исполнительным органом</text>
<text x="265.80" y="345.40" textLength="155.2" lengthAdjust="spacing" font-size="8.3" transform="matrix(1 0 0 1.080 0 -27.632)">Расходы по обязательному  социальному</text>
<text x="265.80" y="355.60" textLength="75.9" lengthAdjust="spacing" font-size="8.3" transform="matrix(1 0 0 1.080 0 -28.448)">На начало квартала</text>
<text x="265.80" y="366.00" textLength="119.5" lengthAdjust="spacing" font-size="8.3" transform="matrix(1 0 0 1.080 0 -29.280)">За отчетный квартал (месяцы)</text>
<text x="265.80" y="376.50" textLength="30.9" lengthAdjust="spacing" font-size="8.3" transform="matrix(1 0 0 1.080 0 -30.120)">Октябрь</text>
<text x="265.80" y="386.90" textLength="25.9" lengthAdjust="spacing" font-size="8.3" transform="matrix(1 0 0 1.080 0 -30.952)">Ноябрь</text>
<text x="265.80" y="397.20" textLength="30.9" lengthAdjust="spacing" font-size="8.3" transform="matrix(1 0 0 1.080 0 -31.776)">Декабрь</text>
<text x="265.80" y="411.60" textLength="110.4" lengthAdjust="spacing" font-size="8.3" transform="matrix(1 0 0 1.080 0 -32.928)">Перечислено страхователем</text>
<text x="265.80" y="427.50" textLength="75.6" lengthAdjust="spacing" font-size="8.3" transform="matrix(1 0 0 1.080 0 -34.200)">На начало квартала</text>
<text x="265.80" y="437.90" textLength="119.3" lengthAdjust="spacing" font-size="8.3" transform="matrix(1 0 0 1.080 0 -35.032)">За отчетный квартал (месяцы)</text>
<text x="265.80" y="478.70" textLength="30.3" lengthAdjust="spacing" font-size="8.3" transform="matrix(1 0 0 1.080 0 -38.296)">Списано</text>
<text x="265.80" y="489.10" textLength="67.9" lengthAdjust="spacing" font-size="8.3" transform="matrix(1 0 0 1.080 0 -39.128)">Всего (стр. 9 - 12)</text>
<text x="265.80" y="499.40" textLength="167.7" lengthAdjust="spacing" font-size="8.3" transform="matrix(1 0 0 1.080 0 -39.952)">Задолженность за страхователем на конец</text>
<text x="265.80" y="509.80" textLength="84.9" lengthAdjust="spacing" font-size="8.3" transform="matrix(1 0 0 1.080 0 -40.784)">в  том числе недоимка</text>
<text x="279.00" y="448.90" textLength="31.1" lengthAdjust="spacing" font-size="8.3" transform="matrix(1 0 0 1.080 0 -35.912)">09.02.06</text>
<text x="328.60" y="448.90" font-size="8.3" transform="matrix(1 0 0 1.080 0 -35.912)">12</text>
<text x="446.80" y="448.90" text-anchor="end" font-size="8.3" transform="matrix(1 0 0 1.080 0 -35.912)">58</text>
<text x="297.00" y="459.00" text-anchor="middle" font-size="8.3" transform="matrix(1 0 0 1.080 0 -36.720)">. .</text>
<text x="297.00" y="469.20" text-anchor="middle" font-size="8.3" transform="matrix(1 0 0 1.080 0 -37.536)">. .</text>
<text x="414.50" y="356.50" text-anchor="middle" font-size="8.3" transform="matrix(1 0 0 1.080 0 -28.520)">-</text>
<text x="414.50" y="377.40" text-anchor="middle" font-size="8.3" transform="matrix(1 0 0 1.080 0 -30.192)">-</text>
<text x="414.50" y="387.80" text-anchor="middle" font-size="8.3" transform="matrix(1 0 0 1.080 0 -31.024)">-</text>
<text x="414.50" y="398.10" text-anchor="middle" font-size="8.3" transform="matrix(1 0 0 1.080 0 -31.848)">-</text>
<text x="414.50" y="428.40" text-anchor="middle" font-size="8.3" transform="matrix(1 0 0 1.080 0 -34.272)">-</text>
<text x="414.50" y="459.40" text-anchor="middle" font-size="8.3" transform="matrix(1 0 0 1.080 0 -36.752)">-</text>
<text x="414.50" y="469.70" text-anchor="middle" font-size="8.3" transform="matrix(1 0 0 1.080 0 -37.576)">-</text>
<text x="531.50" y="336.10" text-anchor="middle" font-size="8.3" transform="matrix(1 0 0 1.080 0 -26.888)">-</text>
<text x="531.50" y="398.10" text-anchor="middle" font-size="8.3" transform="matrix(1 0 0 1.080 0 -31.848)">-</text>
<text x="531.50" y="479.90" text-anchor="middle" font-size="8.3" transform="matrix(1 0 0 1.080 0 -38.392)">-</text>
<text x="531.50" y="510.50" text-anchor="middle" font-size="8.3" transform="matrix(1 0 0 1.080 0 -40.840)">-</text>
<text x="563.60" y="469.00" text-anchor="end" font-size="8.3" transform="matrix(1 0 0 1.080 0 -37.520)">58</text>
<text x="563.60" y="489.10" text-anchor="end" font-size="8.3" transform="matrix(1 0 0 1.080 0 -39.128)">58</text>
<text x="563.60" y="499.20" text-anchor="end" font-size="8.3" transform="matrix(1 0 0 1.080 0 -39.936)">40</text>
<text x="466.50" y="335.20" text-anchor="middle" font-size="8.3" transform="matrix(1 0 0 1.080 0 -26.816)">9</text>
<text x="466.50" y="397.20" text-anchor="middle" font-size="8.3" transform="matrix(1 0 0 1.080 0 -31.776)">10</text>
<text x="466.50" y="469.00" text-anchor="middle" font-size="8.3" transform="matrix(1 0 0 1.080 0 -37.520)">11</text>
<text x="466.50" y="479.00" text-anchor="middle" font-size="8.3" transform="matrix(1 0 0 1.080 0 -38.320)">12</text>
<text x="466.50" y="489.10" text-anchor="middle" font-size="8.3" transform="matrix(1 0 0 1.080 0 -39.128)">13</text>
<text x="466.50" y="499.20" text-anchor="middle" font-size="8.3" transform="matrix(1 0 0 1.080 0 -39.936)">14</text>
<text x="466.50" y="509.60" text-anchor="middle" font-size="8.3" transform="matrix(1 0 0 1.080 0 -40.768)">15</text></svg></body></html>
